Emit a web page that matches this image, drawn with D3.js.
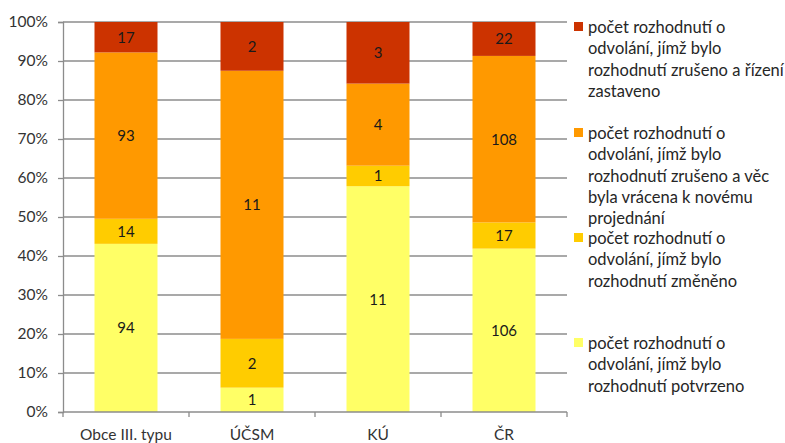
<!DOCTYPE html>
<html><head><meta charset="utf-8">
<script src="https://cdn.jsdelivr.net/npm/d3@7"></script>
<style>
body{margin:0;background:#fff;}
svg{display:block;font-family:Lato, "Open Sans", sans-serif;}
</style></head>
<body>
<svg id="chart" width="785" height="443"></svg>
<script>
// Categories and counts per outcome (bottom to top in each stacked bar)
const categories = ["Obce III. typu", "ÚČSM", "KÚ", "ČR"];
const potvrzeno = [94, 1, 11, 106];
const zmeneno = [14, 2, 1, 17];
const vraceno = [93, 11, 4, 108];
const zastaveno = [17, 2, 3, 22];
const yTicks = [0, 0.1, 0.2, 0.3, 0.4, 0.5, 0.6, 0.7, 0.8, 0.9, 1];

const seriesDefs = [
  {key: "potvrzeno", values: potvrzeno, color: "#FFFF66",
   label: ["počet rozhodnutí o", "odvolání, jímž bylo", "rozhodnutí potvrzeno"]},
  {key: "zmeneno", values: zmeneno, color: "#FFCC00",
   label: ["počet rozhodnutí o", "odvolání, jímž bylo", "rozhodnutí změněno"]},
  {key: "vraceno", values: vraceno, color: "#FF9900",
   label: ["počet rozhodnutí o", "odvolání, jímž bylo", "rozhodnutí zrušeno a věc", "byla vrácena k novému", "projednání"]},
  {key: "zastaveno", values: zastaveno, color: "#CC3300",
   label: ["počet rozhodnutí o", "odvolání, jímž bylo", "rozhodnutí zrušeno a řízení", "zastaveno"]}
];

const rows = categories.map((c, i) => {
  const r = {cat: c};
  let total = 0;
  seriesDefs.forEach(s => total += s.values[i]);
  seriesDefs.forEach(s => r[s.key] = s.values[i] / total);
  seriesDefs.forEach(s => r[s.key + "_n"] = s.values[i]);
  return r;
});

const svg = d3.select("#chart");
const plotL = 63, plotR = 567, plotT = 22, plotB = 412;

const x = d3.scaleBand().domain(categories).range([plotL, plotR]).paddingInner(0.5).paddingOuter(0.25);
const y = d3.scaleLinear().domain([0, 1]).range([plotB, plotT]);

// gridlines
svg.append("g").selectAll("line").data(yTicks.filter(t => t > 0)).join("line")
  .attr("x1", plotL).attr("x2", plotR)
  .attr("y1", d => y(d)).attr("y2", d => y(d))
  .attr("stroke", "#8c8c8c").attr("stroke-width", 1.3);

// stacked bars
const stack = d3.stack().keys(seriesDefs.map(s => s.key));
const layers = stack(rows);
const g = svg.append("g");
layers.forEach((layer, li) => {
  const s = seriesDefs[li];
  g.append("g").selectAll("rect").data(layer).join("rect")
    .attr("x", d => x(d.data.cat))
    .attr("width", x.bandwidth())
    .attr("y", d => y(d[1]))
    .attr("height", d => y(d[0]) - y(d[1]))
    .attr("fill", s.color);
  g.append("g").selectAll("text").data(layer).join("text")
    .attr("x", d => x(d.data.cat) + x.bandwidth() / 2)
    .attr("y", d => (y(d[0]) + y(d[1])) / 2)
    .attr("dy", "0.36em")
    .attr("text-anchor", "middle")
    .attr("font-size", 15)
    .attr("fill", "#1a1a1a")
    .text(d => d.data[s.key + "_n"]);
});

// y axis
const yAxis = d3.axisLeft(y).tickValues(yTicks).tickFormat(d3.format(".0%")).tickSize(5).tickPadding(10);
const ya = svg.append("g").attr("transform", `translate(${plotL},0)`).call(yAxis);
ya.select(".domain").attr("stroke", "#8c8c8c").attr("stroke-width", 1.3);
ya.selectAll(".tick line").attr("stroke", "#8c8c8c").attr("stroke-width", 1.3);
ya.selectAll("text").attr("font-size", 15.5).attr("fill", "#333").style("font-family", "Lato, sans-serif");

// x axis with boundary ticks between categories
const xa = svg.append("g").attr("transform", `translate(0,${plotB})`);
xa.append("line").attr("x1", plotL).attr("x2", plotR).attr("stroke", "#8c8c8c").attr("stroke-width", 1.3);
const bounds = d3.range(categories.length + 1).map(i => plotL + i * (plotR - plotL) / categories.length);
xa.selectAll("line.t").data(bounds).join("line").attr("class", "t")
  .attr("x1", d => d).attr("x2", d => d).attr("y1", 0).attr("y2", 5)
  .attr("stroke", "#8c8c8c").attr("stroke-width", 1.3);
xa.selectAll("text").data(categories).join("text")
  .attr("x", d => x(d) + x.bandwidth() / 2)
  .attr("y", 28)
  .attr("text-anchor", "middle")
  .attr("font-size", 15.5).attr("fill", "#333")
  .text(d => d);

// legend, listed top to bottom
const legendTops = {zastaveno: 27, vraceno: 133, zmeneno: 238, potvrzeno: 343};
const lg = svg.append("g");
seriesDefs.forEach(s => {
  const y0 = legendTops[s.key];
  lg.append("rect").attr("x", 574).attr("y", y0 - 5).attr("width", 9).attr("height", 9).attr("fill", s.color);
  lg.append("g").selectAll("text").data(s.label).join("text")
    .attr("x", 588).attr("y", (d, i) => y0 + i * 21.3)
    .attr("dy", "0.36em")
    .attr("font-size", 16.5).attr("fill", "#262626")
    .text(d => d);
});
</script>
</body></html>
